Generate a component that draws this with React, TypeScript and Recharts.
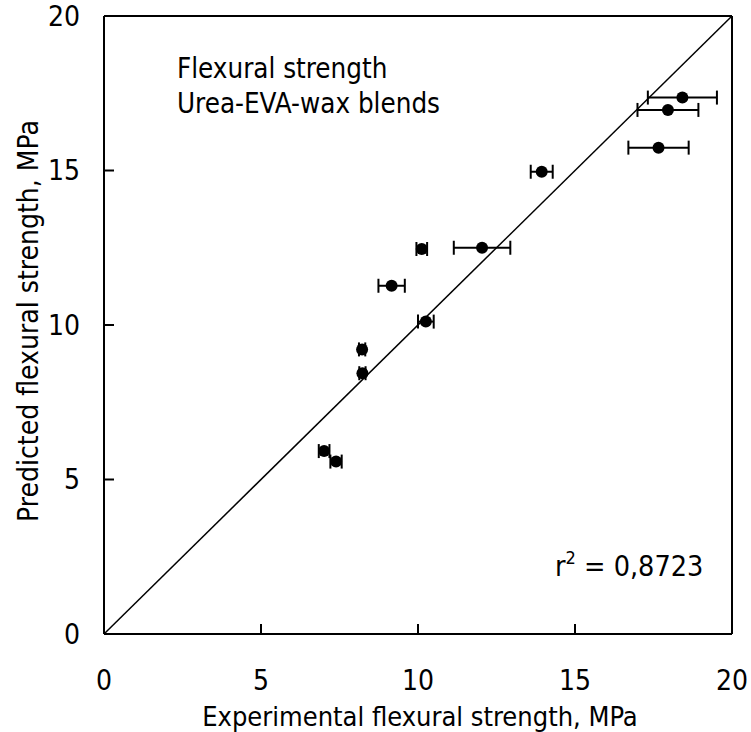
import { ScatterChart, Scatter, XAxis, YAxis, ErrorBar, ReferenceLine, Customized } from 'recharts';

const experimental = [18.42, 17.96, 17.66, 13.94, 12.04, 10.12, 9.16, 10.25, 8.22, 8.23, 7.01, 7.39];
const predicted = [17.36, 16.96, 15.74, 14.96, 12.5, 12.46, 11.27, 10.11, 9.21, 8.44, 5.92, 5.58];
const expError = [1.1, 0.97, 0.96, 0.35, 0.9, 0.17, 0.42, 0.25, 0.1, 0.1, 0.17, 0.18];
const axisTicks = [0, 5, 10, 15, 20];

const FONT = '"DejaVu Sans Condensed", "DejaVu Sans", sans-serif';

const points = experimental.map((x, i) => ({ x, y: predicted[i], xErr: expError[i] }));

const Dot = (props: any) => <circle cx={props.cx} cy={props.cy} r={6} fill="#000" />;

const Annotations = () => (
    <g fontFamily={FONT} fill="#000">
        <text x={177} y={78} fontSize={27.5}>Flexural strength</text>
        <text x={177} y={113} fontSize={27.5}>Urea-EVA-wax blends</text>
        <text x={555} y={576} fontSize={28.5}>
            r<tspan dy={-12} fontSize={18}>2</tspan>
            <tspan dy={12}> = 0,8723</tspan>
        </text>
        <text x={420} y={726} fontSize={27} textAnchor="middle">Experimental flexural strength, MPa</text>
        <text x={38} y={321} fontSize={28} textAnchor="middle" transform="rotate(-90 38 321)">
            Predicted flexural strength, MPa
        </text>
    </g>
);

export default function App() {
    const tickStyle = { fill: '#000', fontSize: 28, fontFamily: FONT };
    return (
        <div style={{ position: 'absolute', left: 0, top: 0, background: '#fff' }}>
            <ScatterChart width={751} height={732} margin={{ top: 16, right: 19, left: 0, bottom: 0 }}>
                <XAxis
                    type="number"
                    dataKey="x"
                    domain={[0, 20]}
                    ticks={axisTicks}
                    height={98}
                    tickSize={-10}
                    tickMargin={46}
                    tick={tickStyle}
                    axisLine={{ stroke: '#000', strokeWidth: 2 }}
                    tickLine={{ stroke: '#000', strokeWidth: 2 }}
                />
                <YAxis
                    type="number"
                    dataKey="y"
                    domain={[0, 20]}
                    ticks={axisTicks}
                    width={104}
                    tickSize={-10}
                    tickMargin={34}
                    tick={tickStyle}
                    axisLine={{ stroke: '#000', strokeWidth: 2 }}
                    tickLine={{ stroke: '#000', strokeWidth: 2 }}
                />
                <ReferenceLine y={20} stroke="#000" strokeWidth={2} />
                <ReferenceLine x={20} stroke="#000" strokeWidth={2} />
                <ReferenceLine
                    segment={[{ x: 0, y: 0 }, { x: 20, y: 20 }]}
                    stroke="#000"
                    strokeWidth={1.5}
                />
                <Scatter data={points} shape={Dot} isAnimationActive={false}>
                    <ErrorBar dataKey="xErr" direction="x" width={7} stroke="#000" strokeWidth={2} />
                </Scatter>
                <Customized component={Annotations} />
            </ScatterChart>
        </div>
    );
}
